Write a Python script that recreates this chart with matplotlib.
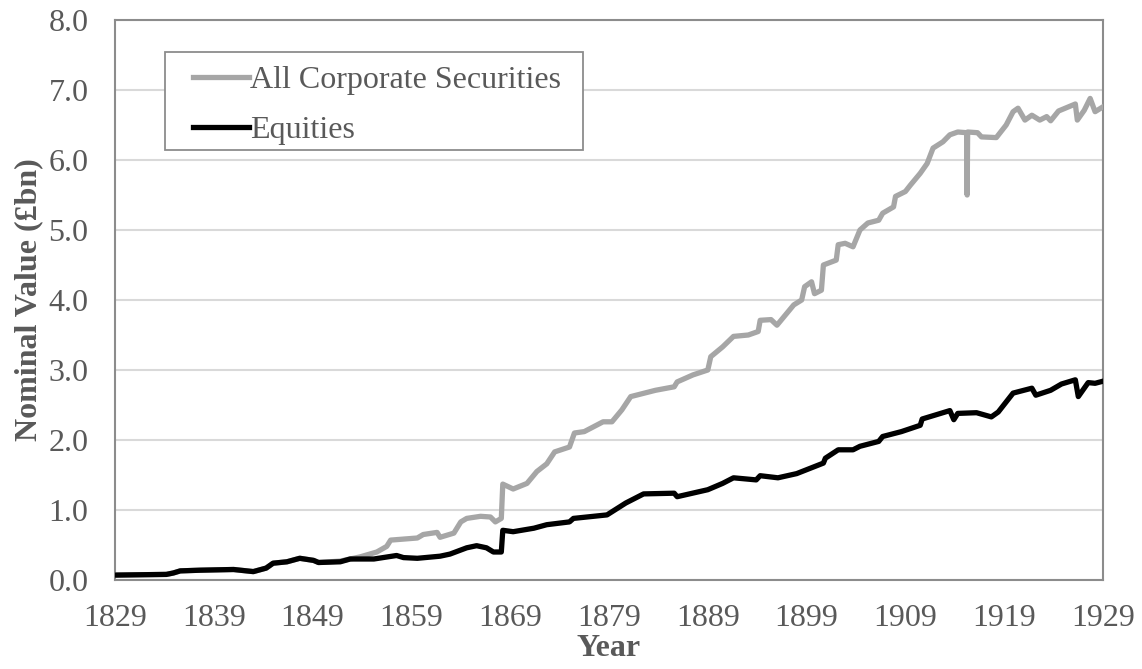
import matplotlib
matplotlib.use("Agg")
import matplotlib.pyplot as plt
from matplotlib.patches import Rectangle
import numpy as np

# values (year, £bn)
eq_years = [1829.0, 1834.2, 1834.9, 1835.6, 1837.6, 1841.0, 1843.0, 1844.3, 1845.0, 1846.4,
            1847.7, 1849.1, 1849.6, 1851.8, 1852.8, 1855.2, 1857.5, 1858.2, 1859.6, 1861.9,
            1862.9, 1864.6, 1865.6, 1866.6, 1867.3, 1868.1, 1868.25, 1869.3, 1871.4, 1872.7,
            1875.0, 1875.4, 1878.8, 1880.7, 1882.5, 1885.6, 1885.9, 1889.0, 1890.5, 1891.6,
            1893.9, 1894.3, 1896.1, 1898.0, 1900.7, 1900.9, 1902.2, 1903.7, 1904.4, 1906.3,
            1906.7, 1908.6, 1910.5, 1910.7, 1913.5, 1913.9, 1914.3, 1916.2, 1917.7, 1918.4,
            1919.9, 1921.8, 1922.2, 1923.7, 1924.8, 1926.2, 1926.5, 1927.5, 1928.2, 1929.0]
equities = [0.07, 0.08, 0.10, 0.13, 0.14, 0.15, 0.12, 0.17, 0.24, 0.26,
            0.31, 0.28, 0.25, 0.26, 0.30, 0.30, 0.35, 0.32, 0.31, 0.34,
            0.37, 0.46, 0.49, 0.46, 0.40, 0.40, 0.71, 0.69, 0.74, 0.79,
            0.83, 0.88, 0.93, 1.10, 1.23, 1.24, 1.19, 1.29, 1.38, 1.46,
            1.43, 1.49, 1.46, 1.52, 1.67, 1.74, 1.86, 1.86, 1.91, 1.98,
            2.05, 2.12, 2.21, 2.30, 2.42, 2.29, 2.38, 2.39, 2.33, 2.40,
            2.67, 2.74, 2.64, 2.71, 2.80, 2.86, 2.62, 2.82, 2.81, 2.84]

all_years = [1829.0, 1834.2, 1834.9, 1835.6, 1837.6, 1841.0, 1843.0, 1844.3, 1845.0, 1846.4,
             1847.7, 1849.1, 1849.6, 1851.8, 1853.8, 1855.5, 1856.5, 1856.9, 1859.6, 1860.2,
             1861.6, 1861.9, 1863.3, 1864.0, 1864.6, 1866.0, 1867.0, 1867.5, 1868.1, 1868.25,
             1869.3, 1870.7, 1871.7, 1872.7, 1873.5, 1875.0, 1875.5, 1876.5, 1878.4, 1879.3,
             1880.3, 1881.2, 1883.7, 1885.6, 1885.9, 1887.5, 1889.0, 1889.3, 1890.5, 1891.6,
             1893.1, 1894.1, 1894.3, 1895.4, 1896.0, 1897.7, 1898.5, 1898.8, 1899.5, 1899.8,
             1900.5, 1900.7, 1902.0, 1902.2, 1902.9, 1903.7, 1904.4, 1905.2, 1906.3, 1906.7,
             1907.8, 1908.0, 1909.0, 1909.5, 1910.5, 1911.2, 1911.8, 1912.8, 1913.5, 1914.3,
             1915.2, 1915.25, 1915.3, 1916.3, 1916.7, 1918.2, 1919.2, 1919.9, 1920.4, 1921.1,
             1921.8, 1922.6, 1923.3, 1923.7, 1924.5, 1926.2, 1926.4, 1927.1, 1927.7, 1928.2,
             1929.0]
all_corp = [0.07, 0.08, 0.10, 0.13, 0.14, 0.15, 0.12, 0.17, 0.24, 0.26,
            0.31, 0.28, 0.25, 0.27, 0.33, 0.40, 0.48, 0.57, 0.60, 0.65,
            0.68, 0.61, 0.67, 0.83, 0.88, 0.91, 0.90, 0.83, 0.88, 1.37,
            1.30, 1.38, 1.55, 1.66, 1.83, 1.90, 2.10, 2.12, 2.26, 2.26,
            2.43, 2.62, 2.71, 2.76, 2.83, 2.93, 3.00, 3.19, 3.33, 3.48,
            3.50, 3.55, 3.71, 3.72, 3.64, 3.93, 4.00, 4.19, 4.26, 4.09,
            4.14, 4.50, 4.57, 4.79, 4.81, 4.76, 5.00, 5.10, 5.14, 5.24,
            5.33, 5.48, 5.55, 5.64, 5.81, 5.95, 6.17, 6.26, 6.36, 6.40,
            6.39, 5.50, 6.40, 6.39, 6.33, 6.32, 6.50, 6.69, 6.74, 6.57,
            6.64, 6.57, 6.62, 6.56, 6.70, 6.80, 6.57, 6.71, 6.88, 6.69,
            6.76]

x_ticks = list(range(1829, 1930, 10))
y_ticks = np.arange(0, 8.01, 1.0)

TXT = "#595959"
FS = 23
plt.rcParams["font.family"] = ["Liberation Serif", "DejaVu Serif"]

fig = plt.figure(figsize=(11.42, 6.69), dpi=100)
ax = fig.add_axes([115 / 1142, 1 - 580 / 669, 988 / 1142, 560 / 669])

ax.plot(all_years, all_corp, color="#a6a6a6", lw=3.8, solid_joinstyle="round",
        label="All Corporate Securities", zorder=3)
ax.plot(eq_years, equities, color="black", lw=3.8, solid_joinstyle="round",
        label="Equities", zorder=4)

ax.set_xlim(1829, 1929)
ax.set_ylim(0, 8)
ax.set_xticks(x_ticks)
ax.set_yticks(y_ticks, [f"{v:.1f}" for v in y_ticks])
ax.tick_params(length=0, labelsize=FS, labelcolor=TXT)
ax.tick_params(axis="x", pad=17)
ax.tick_params(axis="y", pad=19)
ax.yaxis.grid(True, color="#d9d9d9", lw=1.5, zorder=0)
for s in ax.spines.values():
    s.set_color("#8c8c8c")
    s.set_linewidth(1.5)

ax.set_xlabel("Year", fontsize=FS, fontweight="bold", color=TXT, labelpad=1)
ax.set_ylabel("Nominal Value (£bn)", fontsize=FS, fontweight="bold", color=TXT, labelpad=4)

# legend box is drawn separately (Excel-style padding, wider on the left)
ax.add_patch(Rectangle((0.0506, 0.768), 0.4231, 0.175, transform=ax.transAxes,
                       facecolor="white", edgecolor="#8c8c8c", lw=1.3, zorder=5))
leg = ax.legend(loc="upper left", bbox_to_anchor=(0.0789, 0.919), borderaxespad=0,
                fontsize=FS, frameon=False, handlelength=1.75,
                handletextpad=0.05, labelspacing=0.66, borderpad=0)
leg.set_zorder(6)
for t in leg.get_texts():
    t.set_color(TXT)

fig.savefig("out.png")
